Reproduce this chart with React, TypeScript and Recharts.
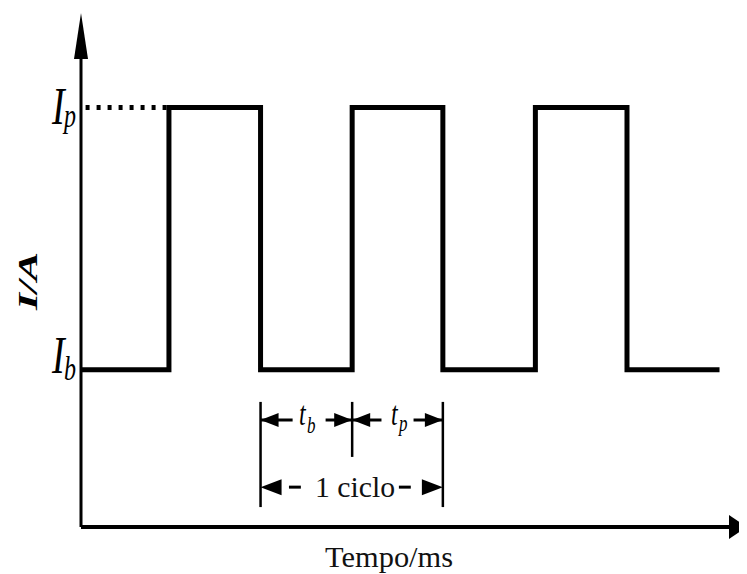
import React from 'react';
import { ComposedChart, Line, XAxis, YAxis, ReferenceLine, ReferenceDot } from 'recharts';

// Waveform (time in ms units, current in A units)
const waveTime = [0, 0.96, 0.96, 1.96, 1.96, 2.96, 2.96, 3.95, 3.95, 4.96, 4.96, 5.96, 5.96, 6.97];
const waveCurrent = [3, 3, 8, 8, 3, 3, 8, 8, 3, 3, 8, 8, 3, 3];
const levelIb = 3;
const levelIp = 8;
const xMax = 7.27;
const yMax = 9.8;
// dimension marks (cycle boundaries)
const cycleEdges = [1.96, 2.96, 3.95];
const dimTop = 2.385;
const dimBottom = 0.38;
const dimMidBottom = 1.336;
const rowPeriods = 2.04;
const rowCycle = 0.76;

const data = waveTime.map((t, k) => ({ t, i: waveCurrent[k] }));

const SERIF = '"Liberation Serif", "Times New Roman", "DejaVu Serif", serif';

const tri = (dir: string, len: number, half: number, off = 0) => (p: any) => {
  const cx = p.cx + (dir === 'r' ? off : 0);
  const cy = p.cy;
  let pts = '';
  if (dir === 'l') pts = `${cx},${cy} ${cx + len},${cy - half} ${cx + len},${cy + half}`;
  if (dir === 'r') pts = `${cx},${cy} ${cx - len},${cy - half} ${cx - len},${cy + half}`;
  if (dir === 'u') pts = `${cx},${cy} ${cx - half},${cy + len} ${cx + half},${cy + len}`;
  return <polygon points={pts} fill="#000" />;
};

const subLabel = (main: string, sub: string, dx: number, dy: number, size: number, subSize: number, sdx: number, sdy: number, sy: number) => (p: any) => (
  <g>
    <g transform={`translate(${p.cx + dx},${p.cy + dy}) scale(1,${sy})`}>
      <text x={0} y={0} fontFamily={SERIF} fontStyle="italic" fontSize={size} fill="#000">{main}</text>
    </g>
    <g transform={`translate(${p.cx + dx + sdx},${p.cy + dy + sdy}) scale(1,${sy})`}>
      <text x={0} y={0} fontFamily={SERIF} fontStyle="italic" fontSize={subSize} fill="#000">{sub}</text>
    </g>
  </g>
);

const plainText = (txt: string, dx: number, dy: number, size: number, len: number) => (p: any) => (
  <text x={p.cx + dx} y={p.cy + dy} fontFamily={SERIF} fontSize={size} fill="#111" textLength={len} lengthAdjust="spacingAndGlyphs">{txt}</text>
);

const axisTitle = (p: any) => (
  <text x={p.cx} y={p.cy + 10} transform={`rotate(-90, ${p.cx}, ${p.cy})`} textAnchor="middle" fontFamily={SERIF} fontStyle="italic" fontWeight="bold" fontSize={28} fill="#000" textLength={58} lengthAdjust="spacingAndGlyphs">I/A</text>
);

export default function App() {
  const seg = (x1: number, y1: number, x2: number, y2: number, w: number, key: string, dash?: string) => (
    <ReferenceLine key={key} segment={[{ x: x1, y: y1 }, { x: x2, y: y2 }]} stroke="#000" strokeWidth={w} strokeDasharray={dash} ifOverflow="visible" />
  );
  return (
    <ComposedChart width={739} height={566} data={data} margin={{ top: 5, right: 0, bottom: 47, left: 73 }}>
      <XAxis type="number" dataKey="t" domain={[0, xMax]} hide allowDataOverflow />
      <YAxis type="number" domain={[0, yMax]} hide allowDataOverflow />

      {/* axes */}
      {seg(0, 0, 0, yMax - 0.3, 3, 'yaxis')}
      {seg(0, 0, xMax - 0.1, 0, 4, 'xaxis')}

      {seg(0.05, levelIp, 0.96, levelIp, 5, 'dots', '4 7')}

      <Line dataKey="i" type="linear" stroke="#000" strokeWidth={5} dot={false} isAnimationActive={false} strokeLinejoin="miter" />

      {/* dimension verticals */}
      {seg(cycleEdges[0], dimBottom, cycleEdges[0], dimTop, 2.5, 'v0')}
      {seg(cycleEdges[1], dimMidBottom, cycleEdges[1], dimTop, 2.5, 'v1')}
      {seg(cycleEdges[2], dimBottom, cycleEdges[2], dimTop, 2.5, 'v2')}

      {/* row 1 */}
      {seg(cycleEdges[0], rowPeriods, 2.31, rowPeriods, 3, 'r1a')}
      {seg(2.67, rowPeriods, cycleEdges[1], rowPeriods, 3, 'r1b')}
      {seg(cycleEdges[1], rowPeriods, 3.28, rowPeriods, 3, 'r1c')}
      {seg(3.63, rowPeriods, cycleEdges[2], rowPeriods, 3, 'r1d')}
      <ReferenceDot x={cycleEdges[0]} y={rowPeriods} shape={tri('l', 18, 7)} ifOverflow="visible" />
      <ReferenceDot x={cycleEdges[1]} y={rowPeriods} shape={tri('r', 18, 7)} ifOverflow="visible" />
      <ReferenceDot x={cycleEdges[1]} y={rowPeriods} shape={tri('l', 18, 7)} ifOverflow="visible" />
      <ReferenceDot x={cycleEdges[2]} y={rowPeriods} shape={tri('r', 18, 7)} ifOverflow="visible" />
      <ReferenceDot x={2.38} y={rowPeriods} shape={subLabel('t', 'b', 0, 5, 24, 17, 8, 8, 1.4)} ifOverflow="visible" />
      <ReferenceDot x={3.384} y={rowPeriods} shape={subLabel('t', 'p', 0, 5, 24, 17, 8, 6, 1.4)} ifOverflow="visible" />

      {/* row 2 */}
      {seg(2.27, rowCycle, 2.40, rowCycle, 3, 'r2a')}
      {seg(3.47, rowCycle, 3.60, rowCycle, 3, 'r2b')}
      <ReferenceDot x={cycleEdges[0]} y={rowCycle} shape={tri('l', 21, 8)} ifOverflow="visible" />
      <ReferenceDot x={cycleEdges[2]} y={rowCycle} shape={tri('r', 21, 8)} ifOverflow="visible" />
      <ReferenceDot x={2.555} y={rowCycle} shape={plainText('1 ciclo', 0, 10, 30, 80)} ifOverflow="visible" />

      {/* axis arrows */}
      <ReferenceDot x={0} y={yMax} shape={tri('u', 46, 7)} ifOverflow="visible" />
      <ReferenceDot x={xMax} y={0} shape={tri('r', 18, 12, 0)} ifOverflow="visible" />

      {/* level labels */}
      <ReferenceDot x={0} y={levelIp} shape={subLabel('I', 'p', -29, 17, 38, 24, 12, 3, 1.4)} ifOverflow="visible" />
      <ReferenceDot x={0} y={levelIb} shape={subLabel('I', 'b', -29, 3, 38, 24, 12, 7, 1.4)} ifOverflow="visible" />

      {/* axis titles */}
      <ReferenceDot x={-0.59} y={4.69} shape={axisTitle} ifOverflow="visible" />
      <ReferenceDot x={2.664} y={0} shape={plainText('Tempo/ms', 0, 40, 30, 128)} ifOverflow="visible" />
    </ComposedChart>
  );
}
